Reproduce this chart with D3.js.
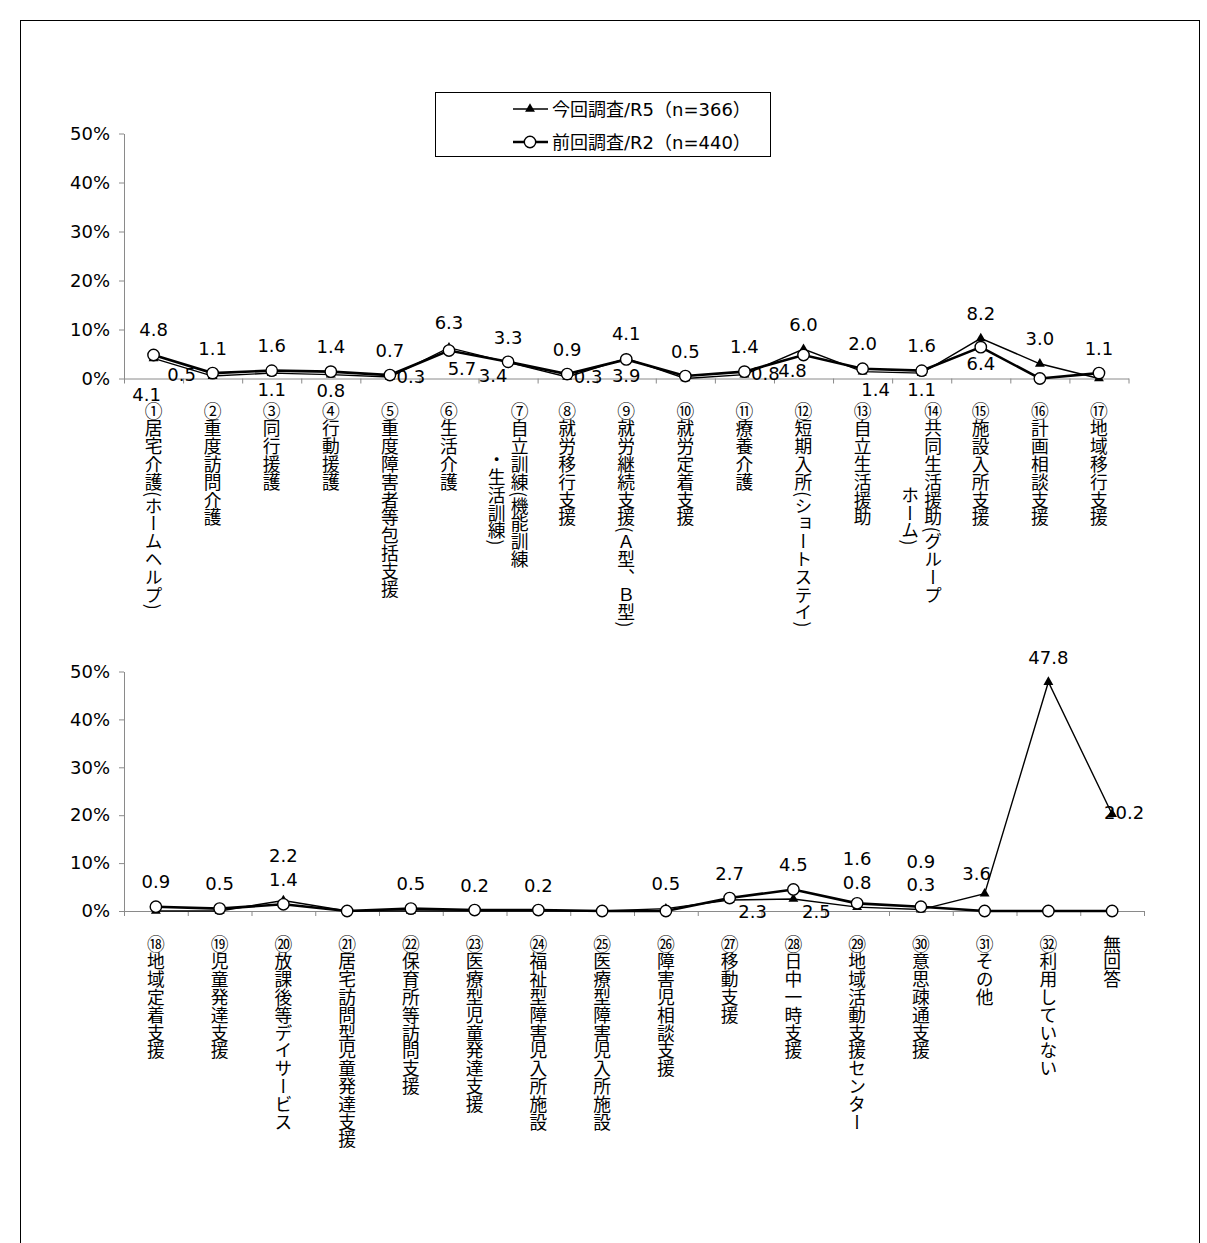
<!DOCTYPE html>
<html>
<head>
<meta charset="utf-8">
<script src="https://cdn.jsdelivr.net/npm/d3@7"></script>
<style>
  body { margin: 0; background: #fff; }
  svg { display: block; }
  .num { font-family: "DejaVu Sans", "Noto Sans CJK JP", sans-serif; font-size: 18px; fill: #000; }
  .cat { font-family: "Noto Sans CJK JP", sans-serif; font-size: 17.8px; fill: #000;
         writing-mode: vertical-rl; text-orientation: mixed; }
  .leg { font-family: "DejaVu Sans", "Noto Sans CJK JP", sans-serif; font-size: 18px; fill: #000; }
  .axis path, .axis line { stroke: #8a8a8a; stroke-width: 1; }
</style>
</head>
<body>
<svg id="chart" width="1207" height="1243"></svg>
<script>
// ---- data ----
const seriesNames = ["今回調査/R5（n=366）", "前回調査/R2（n=440）"];
const yTicks = [0, 10, 20, 30, 40, 50];

const categoriesTop = [
  "①居宅介護(ホームヘルプ)",
  "②重度訪問介護",
  "③同行援護",
  "④行動援護",
  "⑤重度障害者等包括支援",
  "⑥生活介護",
  "⑦自立訓練(機能訓練\n・生活訓練)",
  "⑧就労移行支援",
  "⑨就労継続支援(Ａ型、Ｂ型)",
  "⑩就労定着支援",
  "⑪療養介護",
  "⑫短期入所(ショートステイ)",
  "⑬自立生活援助",
  "⑭共同生活援助(グループ\nホーム)",
  "⑮施設入所支援",
  "⑯計画相談支援",
  "⑰地域移行支援"
];
const r5Top = [4.1, 0.5, 1.1, 0.8, 0.3, 6.3, 3.3, 0.3, 4.1, 0.0, 0.8, 6.0, 1.4, 1.1, 8.2, 3.0, 0.0];
const r2Top = [4.8, 1.1, 1.6, 1.4, 0.7, 5.7, 3.4, 0.9, 3.9, 0.5, 1.4, 4.8, 2.0, 1.6, 6.4, 0.0, 1.1];

const categoriesBottom = [
  "⑱地域定着支援",
  "⑲児童発達支援",
  "⑳放課後等デイサービス",
  "㉑居宅訪問型児童発達支援",
  "㉒保育所等訪問支援",
  "㉓医療型児童発達支援",
  "㉔福祉型障害児入所施設",
  "㉕医療型障害児入所施設",
  "㉖障害児相談支援",
  "㉗移動支援",
  "㉘日中一時支援",
  "㉙地域活動支援センター",
  "㉚意思疎通支援",
  "㉛その他",
  "㉜利用していない",
  "無回答"
];
const r5Bottom = [0.0, 0.0, 2.2, 0.0, 0.0, 0.0, 0.0, 0.0, 0.5, 2.3, 2.5, 0.8, 0.3, 3.6, 47.8, 20.2];
const r2Bottom = [0.9, 0.5, 1.4, 0.0, 0.5, 0.2, 0.2, 0.0, 0.0, 2.7, 4.5, 1.6, 0.9, 0.0, 0.0, 0.0];

// data-label placement codes (zero values carry no label)
const r5TopLabelPos = ["BB","L","B","B","R","T","T","R","T","T","R","T","BR","B","T","T","T"];
const r2TopLabelPos = ["T","T","T","T","T","BR","BL","T","B","T","T","BL2","T","T","B","T","T"];
const r5BottomLabelPos = ["T","T","TT","T","T","T","T","T","T","BR2","BR2","T","T","TL","T","RT"];
const r2BottomLabelPos = ["T","T","T","T","T","T","T","T","T","T","T","TT","TT","T","T","T"];

// ---- layout / style ----
const labelOffset = {
  T: [0, -25], TT: [0, -45], B: [0, 16], BB: [-7, 36], L: [-31, -2], R: [21, -1],
  BR: [13, 18], BL: [-15, 14], BL2: [-11, 16], BR2: [23, 12], TL: [-8, -20], RT: [12, -2]
};

const panels = [
  { cats: categoriesTop, r5: r5Top, r2: r2Top, r5Pos: r5TopLabelPos, r2Pos: r2TopLabelPos,
    left: 124, right: 1128.5, y0: 378.5, y50: 133.5, labelTop: 402 },
  { cats: categoriesBottom, r5: r5Bottom, r2: r2Bottom, r5Pos: r5BottomLabelPos, r2Pos: r2BottomLabelPos,
    left: 124, right: 1144, y0: 911, y50: 671.5, labelTop: 935 }
];

const svg = d3.select("#chart");

// outer frame
svg.append("rect")
  .attr("x", 20.5).attr("y", 20.5).attr("width", 1179).attr("height", 1260)
  .attr("fill", "none").attr("stroke", "#000").attr("stroke-width", 1);

panels.forEach(p => {
  const n = p.cats.length;
  const g = svg.append("g");
  const x = d3.scaleBand().domain(d3.range(n)).range([p.left, p.right]).padding(0);
  const xEdge = d3.scaleLinear().domain([0, n]).range([p.left, p.right]);
  const y = d3.scaleLinear().domain([0, 50]).range([p.y0, p.y50]);
  const cx = i => x(i) + x.bandwidth() / 2;

  // y axis
  const ya = g.append("g").attr("class", "axis")
    .attr("transform", `translate(${p.left},0)`)
    .call(d3.axisLeft(y).tickValues(yTicks).tickFormat(d => d + "%").tickSize(5).tickSizeOuter(0).tickPadding(9));
  ya.selectAll("text").attr("class", "num").attr("fill", "#000");

  // x axis with ticks between categories
  g.append("g").attr("class", "axis")
    .attr("transform", `translate(0,${p.y0})`)
    .call(d3.axisBottom(xEdge).tickValues(d3.range(n + 1)).tickFormat("").tickSize(5).tickSizeOuter(0));

  // category labels (vertical writing); a wrapped label sits in a second column
  p.cats.forEach((c, i) => {
    const lines = c.split("\n");
    if (lines.length === 1) {
      g.append("text").attr("class", "cat")
        .attr("x", cx(i)).attr("y", p.labelTop).attr("text-anchor", "start").text(c);
    } else {
      const first = g.append("text").attr("class", "cat")
        .attr("x", cx(i) + 11.5).attr("y", p.labelTop).attr("text-anchor", "start").text(lines[0]);
      const len = first.node().getComputedTextLength();
      g.append("text").attr("class", "cat")
        .attr("x", cx(i) - 11.5).attr("y", p.labelTop + len / 2 + 13).attr("text-anchor", "middle").text(lines[1]);
    }
  });

  const line = d3.line().x((d, i) => cx(i)).y(d => y(d));

  // R5: thin line with filled triangles
  g.append("path").datum(p.r5).attr("d", line)
    .attr("fill", "none").attr("stroke", "#000").attr("stroke-width", 1.4);
  g.selectAll(".tri").data(p.r5).join("path").attr("class", "tri")
    .attr("d", d3.symbol(d3.symbolTriangle, 42))
    .attr("transform", (d, i) => `translate(${cx(i)},${y(d)})`)
    .attr("fill", "#000");

  // R2: heavier line with open circles
  g.append("path").datum(p.r2).attr("d", line)
    .attr("fill", "none").attr("stroke", "#000").attr("stroke-width", 2.6);
  g.selectAll(".dot").data(p.r2).join("circle").attr("class", "dot")
    .attr("cx", (d, i) => cx(i)).attr("cy", d => y(d)).attr("r", 5.7)
    .attr("fill", "#fff").attr("stroke", "#000").attr("stroke-width", 1.4);

  // value labels
  const addLabels = (vals, pos) => {
    vals.forEach((v, i) => {
      if (v === 0) return;
      const o = labelOffset[pos[i]];
      g.append("text").attr("class", "num")
        .attr("x", cx(i) + o[0]).attr("y", y(v) + o[1])
        .attr("text-anchor", "middle").attr("dominant-baseline", "central")
        .text(v.toFixed(1));
    });
  };
  addLabels(p.r5, p.r5Pos);
  addLabels(p.r2, p.r2Pos);
});

// legend
const lg = svg.append("g");
lg.append("rect").attr("x", 435.5).attr("y", 92.5).attr("width", 335).attr("height", 64)
  .attr("fill", "#fff").attr("stroke", "#000").attr("stroke-width", 1);
const legRows = [109, 142];
seriesNames.forEach((name, k) => {
  const yy = legRows[k];
  lg.append("line").attr("x1", 513).attr("x2", 548).attr("y1", yy).attr("y2", yy)
    .attr("stroke", "#000").attr("stroke-width", k === 0 ? 1.4 : 2.6);
  if (k === 0) {
    lg.append("path").attr("d", d3.symbol(d3.symbolTriangle, 42))
      .attr("transform", `translate(530,${yy})`).attr("fill", "#000");
  } else {
    lg.append("circle").attr("cx", 530).attr("cy", yy).attr("r", 5.7)
      .attr("fill", "#fff").attr("stroke", "#000").attr("stroke-width", 1.4);
  }
  lg.append("text").attr("class", "leg").attr("x", 552).attr("y", yy)
    .attr("dominant-baseline", "central").text(name);
});
</script>
</body>
</html>
